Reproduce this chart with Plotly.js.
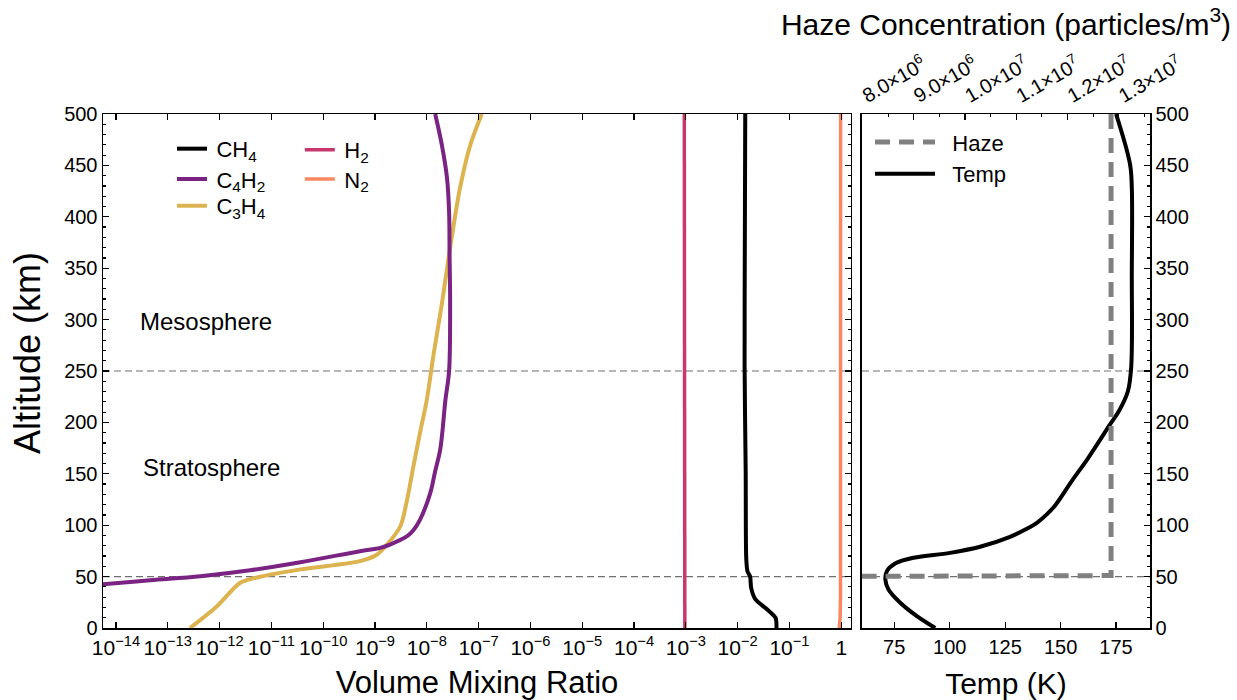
<!DOCTYPE html>
<html>
<head>
<meta charset="utf-8">
<script src="https://cdn.plot.ly/plotly-3.0.1.min.js"></script>
<style>html,body{margin:0;padding:0;background:#fff;}#chart{width:1237px;height:700px;}</style>
</head>
<body>
<div id="chart"></div>
<script>
// ---------- DATA ----------
const ch4Alt = [0, 10, 18, 28, 39, 50, 55, 67, 150, 255, 400, 500];
const ch4Vmr = [0.0562, 0.0537, 0.0372, 0.0219, 0.0182, 0.0174, 0.0155, 0.01466, 0.01429, 0.01361, 0.0138, 0.0140];

const c4h2Alt = [39, 42.3, 46.5, 50.4, 56.2, 64, 74.7, 78, 81.2, 89.3, 95.1, 105.5, 131.5, 152.5, 174, 222, 250, 315, 363, 405, 438, 470, 500];
const c4h2Vmr = [8.5e-16, 4.9e-15, 4.57e-14, 4.27e-13, 3.89e-12, 3.63e-11, 5.13e-10, 1.26e-9, 1.95e-9, 4.17e-9, 5.50e-9, 7.41e-9, 1.17e-8, 1.45e-8, 1.82e-8, 2.29e-8, 2.69e-8, 2.82e-8, 2.75e-8, 2.69e-8, 2.45e-8, 1.95e-8, 1.45e-8];

const c3h4Alt = [0, 21.2, 44, 49.8, 57, 65, 71.5, 81, 99, 125, 157, 190, 222, 266, 315, 360, 386, 428, 470, 500];
const c3h4Vmr = [2.69e-13, 8.91e-13, 2.51e-12, 6.03e-12, 3.63e-11, 5.13e-10, 1.10e-9, 1.70e-9, 3.09e-9, 4.17e-9, 5.50e-9, 7.41e-9, 1.0e-8, 1.35e-8, 1.95e-8, 2.63e-8, 3.16e-8, 4.37e-8, 6.92e-8, 1.15e-7];

const h2Alt = [0, 250, 500];
const h2Vmr = [9.55e-4, 9.45e-4, 9.33e-4];

const n2Alt = [0, 10, 30, 100, 500];
const n2Vmr = [0.91, 0.95, 0.965, 0.97, 0.97];

const tempAlt = [0, 11.5, 24.5, 37.4, 47, 55.3, 62.7, 68.3, 73.1, 79, 88.7, 96, 102.3, 111, 120, 142.8, 165.6, 198, 211, 230, 253, 347, 428, 451, 500];
const tempK = [93.5, 85.2, 77.7, 72.4, 71, 71.7, 75.4, 83.7, 100.2, 113.7, 127.2, 134.3, 139.3, 144.0, 147.8, 155.0, 162.5, 172.3, 176.3, 180.3, 181.8, 182.1, 182.1, 181.3, 175.0];

const hazeAlt = [500, 51, 49, 0];
const hazeConc = [1.285e7, 1.285e7, 0, 0];

const layerBoundaries = [50, 250];
const layerNames = ['Mesosphere', 'Stratosphere'];
const layerLabelAlt = [298, 156];

const vmrTickVals = [1e-14, 1e-13, 1e-12, 1e-11, 1e-10, 1e-9, 1e-8, 1e-7, 1e-6, 1e-5, 1e-4, 1e-3, 1e-2, 1e-1, 1];
const vmrTickText = ['10<sup>−14</sup>', '10<sup>−13</sup>', '10<sup>−12</sup>', '10<sup>−11</sup>', '10<sup>−10</sup>', '10<sup>−9</sup>', '10<sup>−8</sup>', '10<sup>−7</sup>', '10<sup>−6</sup>', '10<sup>−5</sup>', '10<sup>−4</sup>', '10<sup>−3</sup>', '10<sup>−2</sup>', '10<sup>−1</sup>', '1'];
const tempTickVals = [75, 100, 125, 150, 175];
const hazeTickVals = [8.0e6, 9.0e6, 1.0e7, 1.1e7, 1.2e7, 1.3e7];
const hazeTickText = ['8.0×10<sup>6</sup>', '9.0×10<sup>6</sup>', '1.0×10<sup>7</sup>', '1.1×10<sup>7</sup>', '1.2×10<sup>7</sup>', '1.3×10<sup>7</sup>'];

// ---------- STYLE ----------
const FONT = 'Liberation Sans, Arial, Helvetica, sans-serif';
const colors = {ch4: '#000000', c4h2: '#7b2382', c3h4: '#ddb350', h2: '#c8376e', n2: '#fb8761'};
const TS = '&#8201;';

const traces = [
  {x: h2Vmr, y: h2Alt, name: TS + 'H<sub>2</sub>', mode: 'lines', line: {color: colors.h2, width: 3.5}, xaxis: 'x', yaxis: 'y', legend: 'legend4'},
  {x: n2Vmr, y: n2Alt, name: TS + 'N<sub>2</sub>', mode: 'lines', line: {color: colors.n2, width: 3.5}, xaxis: 'x', yaxis: 'y', legend: 'legend5'},
  {x: c3h4Vmr, y: c3h4Alt, name: TS + 'C<sub>3</sub>H<sub>4</sub>', mode: 'lines', line: {color: colors.c3h4, width: 4, shape: 'spline', smoothing: 0.8}, xaxis: 'x', yaxis: 'y', legend: 'legend3'},
  {x: c4h2Vmr, y: c4h2Alt, name: TS + 'C<sub>4</sub>H<sub>2</sub>', mode: 'lines', line: {color: colors.c4h2, width: 4, shape: 'spline', smoothing: 1}, xaxis: 'x', yaxis: 'y', legend: 'legend2'},
  {x: ch4Vmr, y: ch4Alt, name: TS + 'CH<sub>4</sub>', mode: 'lines', line: {color: colors.ch4, width: 4, shape: 'spline', smoothing: 0.8}, xaxis: 'x', yaxis: 'y', legend: 'legend'},
  {x: hazeConc, y: hazeAlt, name: '&nbsp;&nbsp;Haze', mode: 'lines', line: {color: '#808080', width: 5, dash: '15px,9px'}, xaxis: 'x3', yaxis: 'y2', legend: 'legend6'},
  {x: tempK, y: tempAlt, name: '&nbsp;&nbsp;Temp', mode: 'lines', line: {color: '#000000', width: 4, shape: 'spline', smoothing: 1}, xaxis: 'x2', yaxis: 'y2', legend: 'legend7'}
];

const shapes = [];
layerBoundaries.forEach(b => {
  ['x domain', 'x2 domain'].forEach(xr => {
    shapes.push({type: 'line', xref: xr, x0: 0, x1: 1, yref: 'y', y0: b, y1: b,
      line: {color: '#707070', width: 1.2, dash: '7px,4px'}, layer: 'below'});
  });
});

const annotations = layerNames.map((n, i) => ({
  text: n, xref: 'x domain', yref: 'y', x: i === 0 ? 0.1377 : 0.1444, y: layerLabelAlt[i],
  showarrow: false, font: {family: FONT, size: 24, color: '#000'}, xanchor: 'center', yanchor: 'middle'
}));
annotations.push({
  text: 'Altitude (km)', xref: 'paper', yref: 'paper', x: -0.0726, y: 0.535, textangle: -90,
  showarrow: false, font: {family: FONT, size: 36, color: '#000'}, xanchor: 'center', yanchor: 'middle'
});

const axisCommon = {showgrid: false, zeroline: false, showline: true, linecolor: '#000', linewidth: 1.5,
  ticks: 'inside', ticklen: 6, tickwidth: 1.2, tickcolor: '#000', tickfont: {family: FONT, size: 20, color: '#000'}};

function leg(x, y, w) {
  const o = {x: x, y: y, xanchor: 'left', yanchor: 'top', bgcolor: 'rgba(0,0,0,0)',
    font: {family: FONT, size: 22, color: '#000'}};
  if (w) o.itemwidth = w;
  return o;
}

const layout = {
  width: 1237, height: 700,
  margin: {l: 103, r: 87, t: 114, b: 72},
  paper_bgcolor: '#fff', plot_bgcolor: '#fff',
  font: {family: FONT, color: '#000'},
  xaxis: Object.assign({}, axisCommon, {
    type: 'log', range: [-14.25, 0.187], domain: [0, 0.7144], anchor: 'y', mirror: 'ticks',
    tickvals: vmrTickVals, ticktext: vmrTickText, tickfont: {family: FONT, size: 21, color: '#000'},
    title: {text: 'Volume Mixing Ratio', font: {family: FONT, size: 31, color: '#000'}, standoff: 16}
  }),
  yaxis: Object.assign({}, axisCommon, {
    range: [0, 500], domain: [0, 1], anchor: 'x', mirror: 'ticks', dtick: 50, tick0: 0,
    minor: {dtick: 10, ticks: 'inside', ticklen: 3, tickcolor: '#000', showgrid: false}
  }),
  xaxis2: Object.assign({}, axisCommon, {
    range: [60.45, 190.3], domain: [0.7249, 1], anchor: 'y2', tickvals: tempTickVals,
    title: {text: 'Temp (K)', font: {family: FONT, size: 30, color: '#000'}, standoff: 17}
  }),
  xaxis3: Object.assign({}, axisCommon, {
    range: [7.99e6, 1.361e7], overlaying: 'x2', side: 'top', anchor: 'y2',
    tickvals: hazeTickVals, ticktext: hazeTickText, tickangle: -30,
    tickfont: {family: FONT, size: 20, color: '#000'},
    minor: {dtick: 5e5, tick0: 0, ticks: 'inside', ticklen: 3, tickcolor: '#000', showgrid: false},
    title: {text: 'Haze Concentration (particles/m<sup>3</sup>)', font: {family: FONT, size: 30, color: '#000'}, standoff: 5}
  }),
  yaxis2: Object.assign({}, axisCommon, {
    range: [0, 500], domain: [0, 1], anchor: 'x2', side: 'right', mirror: true, dtick: 50, tick0: 0,
    minor: {dtick: 10, ticks: 'inside', ticklen: 3, tickcolor: '#000', showgrid: false}
  }),
  legend: leg(0.0659, 0.973),
  legend2: leg(0.0659, 0.914),
  legend3: leg(0.0659, 0.862),
  legend4: leg(0.188, 0.971),
  legend5: leg(0.188, 0.914),
  legend6: leg(0.7326, 0.986, 60),
  legend7: leg(0.7326, 0.924, 60),
  shapes: shapes,
  annotations: annotations,
  showlegend: true
};

Plotly.newPlot('chart', traces, layout, {staticPlot: true, displayModeBar: false});
</script>
</body>
</html>
